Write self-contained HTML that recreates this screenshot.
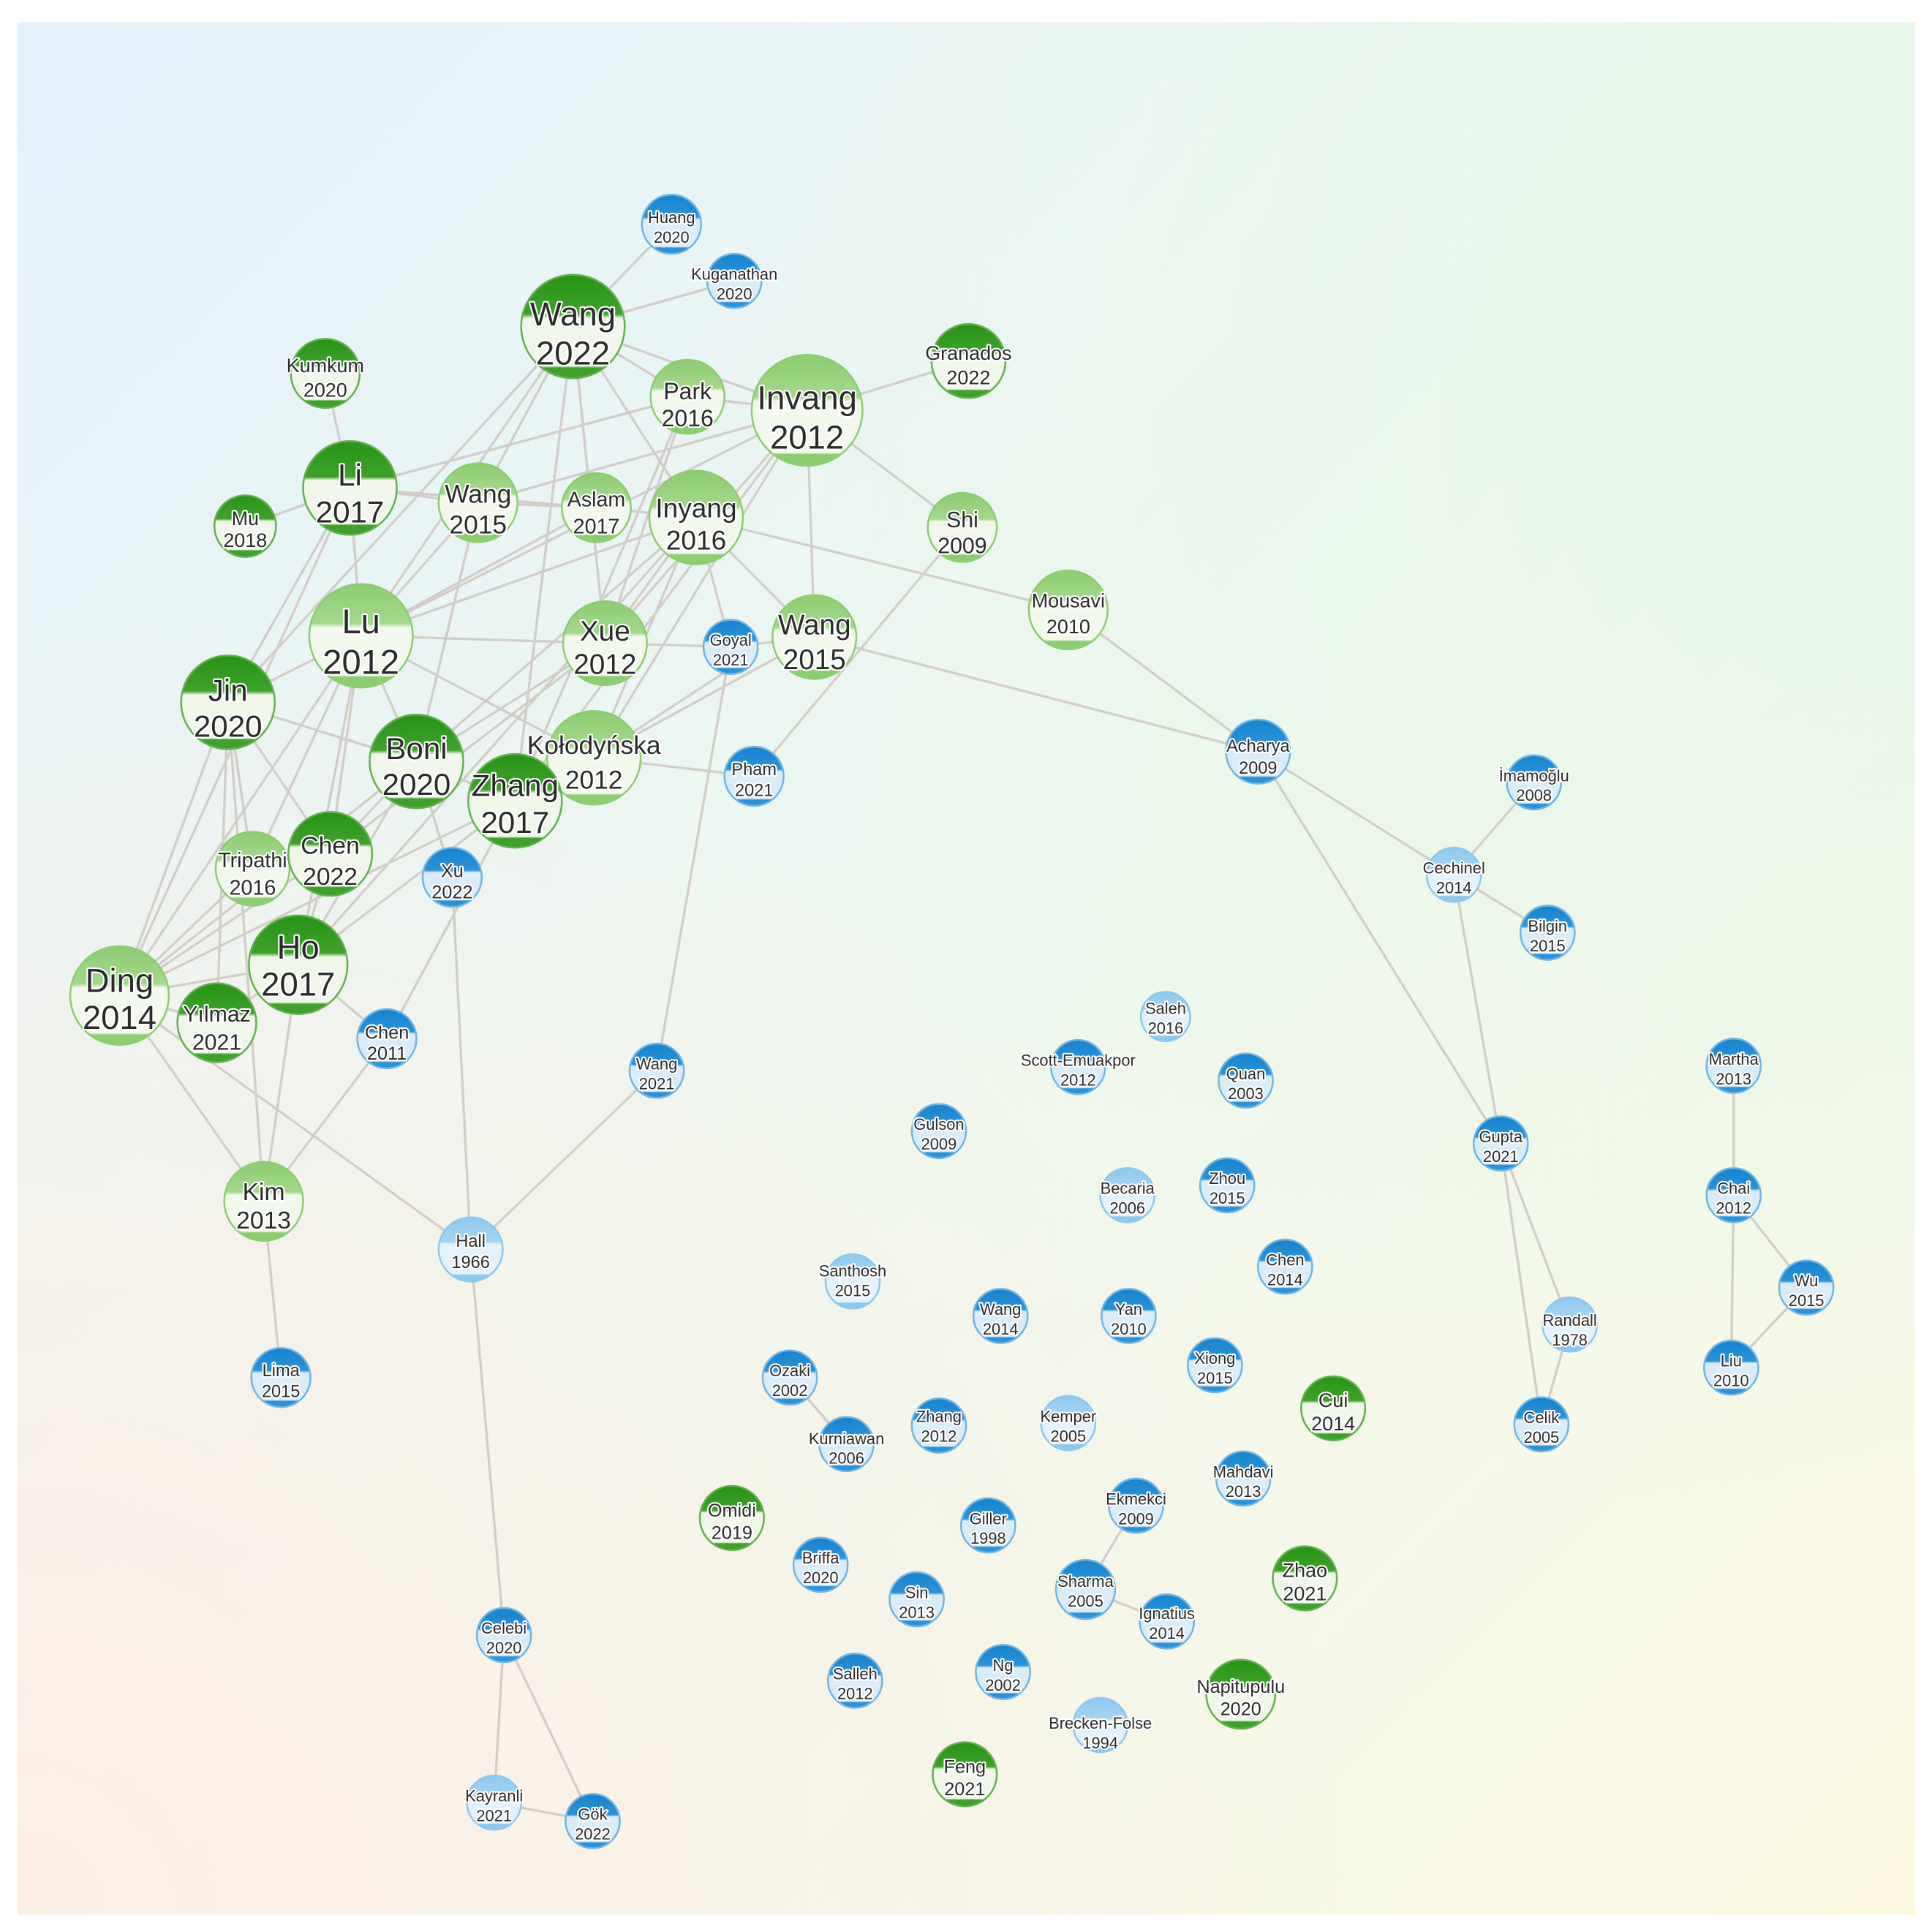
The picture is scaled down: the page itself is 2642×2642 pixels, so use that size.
<!DOCTYPE html>
<html><head><meta charset="utf-8"><style>
html,body{margin:0;padding:0;background:#fff}
svg{display:block}
text{font-family:"Liberation Sans",sans-serif;fill:#2a2a2a;text-anchor:middle;paint-order:stroke;stroke:#fff;stroke-width:2.5px;stroke-linejoin:round}
</style></head><body>
<svg width="2642" height="2642" viewBox="0 0 1568 1568" xmlns="http://www.w3.org/2000/svg">
<defs>
<linearGradient id="bg1" x1="0" y1="0" x2="1" y2="1">
<stop offset="0" stop-color="#e4f1fa"/><stop offset="0.5" stop-color="#eef7ee"/><stop offset="1" stop-color="#fcf8e2"/>
</linearGradient>
<radialGradient id="bg2" cx="0" cy="1" r="0.7"><stop offset="0" stop-color="#fdeee4" stop-opacity="1"/><stop offset="1" stop-color="#fdeee4" stop-opacity="0"/></radialGradient>
<radialGradient id="bg3" cx="1" cy="0.2" r="0.6"><stop offset="0" stop-color="#e6f7e8" stop-opacity="1"/><stop offset="1" stop-color="#e6f7e8" stop-opacity="0"/></radialGradient>
<linearGradient id="gD" x1="0" y1="0" x2="0" y2="1"><stop offset="0" stop-color="#279317"/><stop offset="0.38" stop-color="#3ea12a"/><stop offset="0.42" stop-color="#f0f7ea"/><stop offset="0.88" stop-color="#f0f7ea"/><stop offset="0.9" stop-color="#3ea12a"/><stop offset="1" stop-color="#3ea12a"/></linearGradient>
<linearGradient id="gL" x1="0" y1="0" x2="0" y2="1"><stop offset="0" stop-color="#8ccd70"/><stop offset="0.38" stop-color="#a3d88c"/><stop offset="0.42" stop-color="#f2f8ec"/><stop offset="0.88" stop-color="#f2f8ec"/><stop offset="0.9" stop-color="#8ccd70"/><stop offset="1" stop-color="#8ccd70"/></linearGradient>
<linearGradient id="bD" x1="0" y1="0" x2="0" y2="1"><stop offset="0" stop-color="#1583cf"/><stop offset="0.38" stop-color="#2a92d8"/><stop offset="0.42" stop-color="#d9ecf8"/><stop offset="0.88" stop-color="#d9ecf8"/><stop offset="0.9" stop-color="#2a92d8"/><stop offset="1" stop-color="#2a92d8"/></linearGradient>
<linearGradient id="bL" x1="0" y1="0" x2="0" y2="1"><stop offset="0" stop-color="#8cc8ee"/><stop offset="0.38" stop-color="#a6d4f2"/><stop offset="0.42" stop-color="#e4f2fb"/><stop offset="0.88" stop-color="#e4f2fb"/><stop offset="0.9" stop-color="#8cc8ee"/><stop offset="1" stop-color="#8cc8ee"/></linearGradient>
</defs>
<rect x="14" y="18" width="1540" height="1536" fill="url(#bg1)"/>
<rect x="14" y="18" width="1540" height="1536" fill="url(#bg2)"/>
<rect x="14" y="18" width="1540" height="1536" fill="url(#bg3)"/>
<g stroke="#d2cdc8" stroke-width="2" fill="none">
<line x1="545" y1="182" x2="465" y2="265"/><line x1="596" y1="228" x2="465" y2="265"/>
<line x1="465" y1="265" x2="558" y2="322"/><line x1="465" y1="265" x2="655" y2="333"/>
<line x1="465" y1="265" x2="388" y2="408"/><line x1="465" y1="265" x2="293" y2="516"/>
<line x1="465" y1="265" x2="418" y2="650"/><line x1="465" y1="265" x2="565" y2="420"/>
<line x1="465" y1="265" x2="185" y2="570"/><line x1="465" y1="265" x2="491" y2="522"/>
<line x1="264" y1="303" x2="284" y2="396"/><line x1="284" y1="396" x2="199" y2="427"/>
<line x1="284" y1="396" x2="388" y2="408"/><line x1="284" y1="396" x2="484" y2="412"/>
<line x1="284" y1="396" x2="558" y2="322"/><line x1="284" y1="396" x2="293" y2="516"/>
<line x1="284" y1="396" x2="185" y2="570"/><line x1="284" y1="396" x2="97" y2="808"/>
<line x1="388" y1="408" x2="655" y2="333"/><line x1="388" y1="408" x2="484" y2="412"/>
<line x1="388" y1="408" x2="293" y2="516"/><line x1="388" y1="408" x2="338" y2="618"/>
<line x1="484" y1="412" x2="565" y2="420"/><line x1="484" y1="412" x2="293" y2="516"/>
<line x1="565" y1="420" x2="293" y2="516"/><line x1="565" y1="420" x2="661" y2="517"/>
<line x1="565" y1="420" x2="867" y2="495"/><line x1="565" y1="420" x2="491" y2="522"/>
<line x1="565" y1="420" x2="482" y2="615"/><line x1="565" y1="420" x2="338" y2="618"/>
<line x1="565" y1="420" x2="593" y2="525"/><line x1="565" y1="420" x2="242" y2="783"/>
<line x1="655" y1="333" x2="786" y2="293"/><line x1="655" y1="333" x2="781" y2="428"/>
<line x1="655" y1="333" x2="661" y2="517"/><line x1="655" y1="333" x2="491" y2="522"/>
<line x1="655" y1="333" x2="482" y2="615"/><line x1="655" y1="333" x2="293" y2="516"/>
<line x1="655" y1="333" x2="558" y2="322"/><line x1="655" y1="333" x2="418" y2="650"/>
<line x1="558" y1="322" x2="491" y2="522"/><line x1="558" y1="322" x2="418" y2="650"/>
<line x1="781" y1="428" x2="612" y2="630"/><line x1="661" y1="517" x2="1021" y2="610"/>
<line x1="661" y1="517" x2="482" y2="615"/><line x1="661" y1="517" x2="418" y2="650"/>
<line x1="491" y1="522" x2="293" y2="516"/><line x1="491" y1="522" x2="593" y2="525"/>
<line x1="491" y1="522" x2="338" y2="618"/><line x1="491" y1="522" x2="268" y2="693"/>
<line x1="593" y1="525" x2="661" y2="517"/><line x1="593" y1="525" x2="533" y2="869"/>
<line x1="867" y1="495" x2="1021" y2="610"/>
<line x1="293" y1="516" x2="185" y2="570"/><line x1="293" y1="516" x2="338" y2="618"/>
<line x1="293" y1="516" x2="482" y2="615"/><line x1="293" y1="516" x2="268" y2="693"/>
<line x1="293" y1="516" x2="205" y2="705"/><line x1="293" y1="516" x2="97" y2="808"/>
<line x1="293" y1="516" x2="242" y2="783"/>
<line x1="185" y1="570" x2="338" y2="618"/><line x1="185" y1="570" x2="97" y2="808"/>
<line x1="185" y1="570" x2="205" y2="705"/><line x1="185" y1="570" x2="214" y2="975"/>
<line x1="185" y1="570" x2="176" y2="830"/><line x1="185" y1="570" x2="268" y2="693"/>
<line x1="338" y1="618" x2="418" y2="650"/><line x1="338" y1="618" x2="242" y2="783"/>
<line x1="338" y1="618" x2="268" y2="693"/><line x1="338" y1="618" x2="367" y2="712"/>
<line x1="338" y1="618" x2="97" y2="808"/>
<line x1="482" y1="615" x2="612" y2="630"/><line x1="482" y1="615" x2="418" y2="650"/>
<line x1="482" y1="615" x2="612" y2="530"/>
<line x1="418" y1="650" x2="242" y2="783"/><line x1="418" y1="650" x2="314" y2="843"/>
<line x1="418" y1="650" x2="97" y2="808"/>
<line x1="268" y1="693" x2="97" y2="808"/><line x1="268" y1="693" x2="242" y2="783"/>
<line x1="205" y1="705" x2="97" y2="808"/>
<line x1="242" y1="783" x2="97" y2="808"/><line x1="242" y1="783" x2="176" y2="830"/>
<line x1="242" y1="783" x2="314" y2="843"/><line x1="242" y1="783" x2="214" y2="975"/>
<line x1="97" y1="808" x2="176" y2="830"/><line x1="97" y1="808" x2="214" y2="975"/>
<line x1="97" y1="808" x2="382" y2="1014"/>
<line x1="314" y1="843" x2="214" y2="975"/><line x1="367" y1="712" x2="382" y2="1014"/>
<line x1="382" y1="1014" x2="533" y2="869"/><line x1="382" y1="1014" x2="409" y2="1327"/>
<line x1="214" y1="975" x2="228" y2="1118"/>
<line x1="409" y1="1327" x2="401" y2="1463"/><line x1="409" y1="1327" x2="481" y2="1478"/>
<line x1="401" y1="1463" x2="481" y2="1478"/>
<line x1="1021" y1="610" x2="1180" y2="710"/><line x1="1021" y1="610" x2="1218" y2="928"/>
<line x1="1180" y1="710" x2="1245" y2="635"/><line x1="1180" y1="710" x2="1256" y2="757"/>
<line x1="1180" y1="710" x2="1218" y2="928"/><line x1="1218" y1="928" x2="1274" y2="1075"/>
<line x1="1218" y1="928" x2="1251" y2="1156"/><line x1="1274" y1="1075" x2="1251" y2="1156"/>
<line x1="1407" y1="865" x2="1407" y2="970"/><line x1="1407" y1="970" x2="1466" y2="1045"/>
<line x1="1407" y1="970" x2="1405" y2="1110"/><line x1="1405" y1="1110" x2="1466" y2="1045"/>
<line x1="641" y1="1118" x2="687" y2="1172"/><line x1="922" y1="1222" x2="881" y2="1290"/>
<line x1="881" y1="1290" x2="947" y2="1316"/>
</g>
<g stroke-width="1.5">
<!-- nodes: circle then text -->
<circle cx="545" cy="182" r="24" fill="url(#bD)" stroke="#6fb5e3"/><text x="545" y="181" font-size="13">Huang</text><text x="545" y="197" font-size="13">2020</text>
<circle cx="596" cy="228" r="22" fill="url(#bD)" stroke="#6fb5e3"/><text x="596" y="227" font-size="13">Kuganathan</text><text x="596" y="243" font-size="13">2020</text>
<circle cx="465" cy="265" r="42" fill="url(#gD)" stroke="#62b04e"/><text x="465" y="264" font-size="27">Wang</text><text x="465" y="296" font-size="27">2022</text>
<circle cx="264" cy="303" r="28" fill="url(#gD)" stroke="#62b04e"/><text x="264" y="302" font-size="16">Kumkum</text><text x="264" y="322" font-size="16">2020</text>
<circle cx="786" cy="293" r="30" fill="url(#gD)" stroke="#62b04e"/><text x="786" y="292" font-size="16">Granados</text><text x="786" y="312" font-size="16">2022</text>
<circle cx="558" cy="322" r="30" fill="url(#gL)" stroke="#8ccd70"/><text x="558" y="324" font-size="19">Park</text><text x="558" y="346" font-size="19">2016</text>
<circle cx="655" cy="333" r="45" fill="url(#gL)" stroke="#8ccd70"/><text x="655" y="332" font-size="27">Invang</text><text x="655" y="364" font-size="27">2012</text>
<circle cx="284" cy="396" r="38" fill="url(#gD)" stroke="#62b04e"/><text x="284" y="394" font-size="25">Li</text><text x="284" y="424" font-size="25">2017</text>
<circle cx="199" cy="427" r="25" fill="url(#gD)" stroke="#62b04e"/><text x="199" y="426" font-size="16">Mu</text><text x="199" y="444" font-size="16">2018</text>
<circle cx="388" cy="408" r="32" fill="url(#gL)" stroke="#8ccd70"/><text x="388" y="408" font-size="21">Wang</text><text x="388" y="433" font-size="21">2015</text>
<circle cx="484" cy="412" r="28" fill="url(#gL)" stroke="#8ccd70"/><text x="484" y="411" font-size="17">Aslam</text><text x="484" y="433" font-size="17">2017</text>
<circle cx="565" cy="420" r="38" fill="url(#gL)" stroke="#8ccd70"/><text x="565" y="420" font-size="22">Inyang</text><text x="565" y="446" font-size="22">2016</text>
<circle cx="781" cy="428" r="28" fill="url(#gL)" stroke="#8ccd70"/><text x="781" y="428" font-size="18">Shi</text><text x="781" y="449" font-size="18">2009</text>
<circle cx="293" cy="516" r="42" fill="url(#gL)" stroke="#8ccd70"/><text x="293" y="514" font-size="28">Lu</text><text x="293" y="547" font-size="28">2012</text>
<circle cx="491" cy="522" r="34" fill="url(#gL)" stroke="#8ccd70"/><text x="491" y="520" font-size="23">Xue</text><text x="491" y="547" font-size="23">2012</text>
<circle cx="593" cy="525" r="22" fill="url(#bD)" stroke="#6fb5e3"/><text x="593" y="524" font-size="13">Goyal</text><text x="593" y="540" font-size="13">2021</text>
<circle cx="661" cy="517" r="34" fill="url(#gL)" stroke="#8ccd70"/><text x="661" y="515" font-size="23">Wang</text><text x="661" y="543" font-size="23">2015</text>
<circle cx="867" cy="495" r="32" fill="url(#gL)" stroke="#8ccd70"/><text x="867" y="493" font-size="16">Mousavi</text><text x="867" y="514" font-size="16">2010</text>
<circle cx="185" cy="570" r="38" fill="url(#gD)" stroke="#62b04e"/><text x="185" y="569" font-size="25">Jin</text><text x="185" y="598" font-size="25">2020</text>
<circle cx="338" cy="618" r="38" fill="url(#gD)" stroke="#62b04e"/><text x="338" y="616" font-size="25">Boni</text><text x="338" y="645" font-size="25">2020</text>
<circle cx="482" cy="615" r="38" fill="url(#gL)" stroke="#8ccd70"/>
<circle cx="418" cy="650" r="38" fill="url(#gD)" stroke="#62b04e"/><text x="418" y="646" font-size="25">Zhang</text><text x="418" y="676" font-size="25">2017</text>
<text x="482" y="612" font-size="21">Kołodyńska</text><text x="482" y="640" font-size="21">2012</text>
<circle cx="612" cy="630" r="24" fill="url(#bD)" stroke="#6fb5e3"/><text x="612" y="629" font-size="14">Pham</text><text x="612" y="646" font-size="14">2021</text>
<circle cx="1021" cy="610" r="26" fill="url(#bD)" stroke="#6fb5e3"/><text x="1021" y="610" font-size="14">Acharya</text><text x="1021" y="628" font-size="14">2009</text>
<circle cx="1245" cy="635" r="22" fill="url(#bD)" stroke="#6fb5e3"/><text x="1245" y="634" font-size="13">İmamoğlu</text><text x="1245" y="650" font-size="13">2008</text>
<circle cx="1180" cy="710" r="22" fill="url(#bL)" stroke="#8cc8ee"/><text x="1180" y="709" font-size="13">Cechinel</text><text x="1180" y="725" font-size="13">2014</text>
<circle cx="1256" cy="757" r="22" fill="url(#bD)" stroke="#6fb5e3"/><text x="1256" y="756" font-size="13">Bilgin</text><text x="1256" y="772" font-size="13">2015</text>
<circle cx="205" cy="705" r="30" fill="url(#gL)" stroke="#8ccd70"/><text x="205" y="704" font-size="17">Tripathi</text><text x="205" y="726" font-size="17">2016</text>
<circle cx="268" cy="693" r="34" fill="url(#gD)" stroke="#62b04e"/><text x="268" y="693" font-size="20">Chen</text><text x="268" y="718" font-size="20">2022</text>
<circle cx="367" cy="712" r="24" fill="url(#bD)" stroke="#6fb5e3"/><text x="367" y="712" font-size="15">Xu</text><text x="367" y="729" font-size="15">2022</text>
<circle cx="242" cy="783" r="40" fill="url(#gD)" stroke="#62b04e"/><text x="242" y="778" font-size="27">Ho</text><text x="242" y="808" font-size="27">2017</text>
<circle cx="97" cy="808" r="40" fill="url(#gL)" stroke="#8ccd70"/><text x="97" y="805" font-size="27">Ding</text><text x="97" y="835" font-size="27">2014</text>
<circle cx="176" cy="830" r="32" fill="url(#gD)" stroke="#62b04e"/><text x="176" y="829" font-size="18">Yılmaz</text><text x="176" y="852" font-size="18">2021</text>
<circle cx="314" cy="843" r="24" fill="url(#bD)" stroke="#6fb5e3"/><text x="314" y="843" font-size="15">Chen</text><text x="314" y="860" font-size="15">2011</text>
<circle cx="533" cy="869" r="22" fill="url(#bD)" stroke="#6fb5e3"/><text x="533" y="868" font-size="13">Wang</text><text x="533" y="884" font-size="13">2021</text>
<circle cx="946" cy="825" r="20" fill="url(#bL)" stroke="#8cc8ee"/><text x="946" y="823" font-size="13">Saleh</text><text x="946" y="839" font-size="13">2016</text>
<circle cx="875" cy="866" r="22" fill="url(#bD)" stroke="#6fb5e3"/><text x="875" y="865" font-size="13">Scott-Emuakpor</text><text x="875" y="881" font-size="13">2012</text>
<circle cx="1011" cy="877" r="22" fill="url(#bD)" stroke="#6fb5e3"/><text x="1011" y="876" font-size="13">Quan</text><text x="1011" y="892" font-size="13">2003</text>
<circle cx="1407" cy="865" r="22" fill="url(#bD)" stroke="#6fb5e3"/><text x="1407" y="864" font-size="13">Martha</text><text x="1407" y="880" font-size="13">2013</text>
<circle cx="762" cy="918" r="22" fill="url(#bD)" stroke="#6fb5e3"/><text x="762" y="917" font-size="13">Gulson</text><text x="762" y="933" font-size="13">2009</text>
<circle cx="1218" cy="928" r="22" fill="url(#bD)" stroke="#6fb5e3"/><text x="1218" y="927" font-size="13">Gupta</text><text x="1218" y="943" font-size="13">2021</text>
<circle cx="214" cy="975" r="32" fill="url(#gL)" stroke="#8ccd70"/><text x="214" y="974" font-size="20">Kim</text><text x="214" y="997" font-size="20">2013</text>
<circle cx="915" cy="970" r="22" fill="url(#bL)" stroke="#8cc8ee"/><text x="915" y="969" font-size="13">Becaria</text><text x="915" y="985" font-size="13">2006</text>
<circle cx="996" cy="962" r="22" fill="url(#bD)" stroke="#6fb5e3"/><text x="996" y="961" font-size="13">Zhou</text><text x="996" y="977" font-size="13">2015</text>
<circle cx="1407" cy="970" r="22" fill="url(#bD)" stroke="#6fb5e3"/><text x="1407" y="969" font-size="13">Chai</text><text x="1407" y="985" font-size="13">2012</text>
<circle cx="382" cy="1014" r="26" fill="url(#bL)" stroke="#8cc8ee"/><text x="382" y="1012" font-size="14">Hall</text><text x="382" y="1029" font-size="14">1966</text>
<circle cx="1043" cy="1028" r="22" fill="url(#bD)" stroke="#6fb5e3"/><text x="1043" y="1027" font-size="13">Chen</text><text x="1043" y="1043" font-size="13">2014</text>
<circle cx="692" cy="1040" r="22" fill="url(#bL)" stroke="#8cc8ee"/><text x="692" y="1036" font-size="13">Santhosh</text><text x="692" y="1052" font-size="13">2015</text>
<circle cx="1466" cy="1045" r="22" fill="url(#bD)" stroke="#6fb5e3"/><text x="1466" y="1044" font-size="13">Wu</text><text x="1466" y="1060" font-size="13">2015</text>
<circle cx="812" cy="1068" r="22" fill="url(#bD)" stroke="#6fb5e3"/><text x="812" y="1067" font-size="13">Wang</text><text x="812" y="1083" font-size="13">2014</text>
<circle cx="916" cy="1068" r="22" fill="url(#bD)" stroke="#6fb5e3"/><text x="916" y="1067" font-size="13">Yan</text><text x="916" y="1083" font-size="13">2010</text>
<circle cx="1274" cy="1075" r="22" fill="url(#bL)" stroke="#8cc8ee"/><text x="1274" y="1076" font-size="13">Randall</text><text x="1274" y="1092" font-size="13">1978</text>
<circle cx="986" cy="1108" r="22" fill="url(#bD)" stroke="#6fb5e3"/><text x="986" y="1107" font-size="13">Xiong</text><text x="986" y="1123" font-size="13">2015</text>
<circle cx="228" cy="1118" r="24" fill="url(#bD)" stroke="#6fb5e3"/><text x="228" y="1117" font-size="14">Lima</text><text x="228" y="1134" font-size="14">2015</text>
<circle cx="1405" cy="1110" r="22" fill="url(#bD)" stroke="#6fb5e3"/><text x="1405" y="1109" font-size="13">Liu</text><text x="1405" y="1125" font-size="13">2010</text>
<circle cx="641" cy="1118" r="22" fill="url(#bD)" stroke="#6fb5e3"/><text x="641" y="1117" font-size="13">Ozaki</text><text x="641" y="1133" font-size="13">2002</text>
<circle cx="1082" cy="1143" r="26" fill="url(#gD)" stroke="#62b04e"/><text x="1082" y="1142" font-size="16">Cui</text><text x="1082" y="1161" font-size="16">2014</text>
<circle cx="762" cy="1157" r="22" fill="url(#bD)" stroke="#6fb5e3"/><text x="762" y="1154" font-size="13">Zhang</text><text x="762" y="1170" font-size="13">2012</text>
<circle cx="867" cy="1155" r="22" fill="url(#bL)" stroke="#8cc8ee"/><text x="867" y="1154" font-size="13">Kemper</text><text x="867" y="1170" font-size="13">2005</text>
<circle cx="687" cy="1172" r="22" fill="url(#bD)" stroke="#6fb5e3"/><text x="687" y="1172" font-size="13">Kurniawan</text><text x="687" y="1188" font-size="13">2006</text>
<circle cx="1251" cy="1156" r="22" fill="url(#bD)" stroke="#6fb5e3"/><text x="1251" y="1155" font-size="13">Celik</text><text x="1251" y="1171" font-size="13">2005</text>
<circle cx="1009" cy="1200" r="22" fill="url(#bD)" stroke="#6fb5e3"/><text x="1009" y="1199" font-size="13">Mahdavi</text><text x="1009" y="1215" font-size="13">2013</text>
<circle cx="922" cy="1222" r="22" fill="url(#bD)" stroke="#6fb5e3"/><text x="922" y="1221" font-size="13">Ekmekci</text><text x="922" y="1237" font-size="13">2009</text>
<circle cx="594" cy="1232" r="26" fill="url(#gD)" stroke="#62b04e"/><text x="594" y="1231" font-size="15">Omidi</text><text x="594" y="1249" font-size="15">2019</text>
<circle cx="802" cy="1238" r="22" fill="url(#bD)" stroke="#6fb5e3"/><text x="802" y="1237" font-size="13">Giller</text><text x="802" y="1253" font-size="13">1998</text>
<circle cx="1059" cy="1281" r="26" fill="url(#gD)" stroke="#62b04e"/><text x="1059" y="1280" font-size="16">Zhao</text><text x="1059" y="1299" font-size="16">2021</text>
<circle cx="666" cy="1270" r="22" fill="url(#bD)" stroke="#6fb5e3"/><text x="666" y="1269" font-size="13">Briffa</text><text x="666" y="1285" font-size="13">2020</text>
<circle cx="881" cy="1290" r="24" fill="url(#bD)" stroke="#6fb5e3"/><text x="881" y="1288" font-size="13">Sharma</text><text x="881" y="1304" font-size="13">2005</text>
<circle cx="744" cy="1298" r="22" fill="url(#bD)" stroke="#6fb5e3"/><text x="744" y="1297" font-size="13">Sin</text><text x="744" y="1313" font-size="13">2013</text>
<circle cx="947" cy="1316" r="22" fill="url(#bD)" stroke="#6fb5e3"/><text x="947" y="1314" font-size="13">Ignatius</text><text x="947" y="1330" font-size="13">2014</text>
<circle cx="409" cy="1327" r="22" fill="url(#bD)" stroke="#6fb5e3"/><text x="409" y="1326" font-size="13">Celebi</text><text x="409" y="1342" font-size="13">2020</text>
<circle cx="814" cy="1357" r="22" fill="url(#bD)" stroke="#6fb5e3"/><text x="814" y="1356" font-size="13">Ng</text><text x="814" y="1372" font-size="13">2002</text>
<circle cx="694" cy="1364" r="22" fill="url(#bD)" stroke="#6fb5e3"/><text x="694" y="1363" font-size="13">Salleh</text><text x="694" y="1379" font-size="13">2012</text>
<circle cx="1007" cy="1375" r="28" fill="url(#gD)" stroke="#62b04e"/><text x="1007" y="1374" font-size="15">Napitupulu</text><text x="1007" y="1392" font-size="15">2020</text>
<circle cx="893" cy="1400" r="22" fill="url(#bL)" stroke="#8cc8ee"/><text x="893" y="1403" font-size="13">Brecken-Folse</text><text x="893" y="1419" font-size="13">1994</text>
<circle cx="783" cy="1440" r="26" fill="url(#gD)" stroke="#62b04e"/><text x="783" y="1439" font-size="15">Feng</text><text x="783" y="1457" font-size="15">2021</text>
<circle cx="401" cy="1463" r="22" fill="url(#bL)" stroke="#8cc8ee"/><text x="401" y="1462" font-size="13">Kayranli</text><text x="401" y="1478" font-size="13">2021</text>
<circle cx="481" cy="1478" r="22" fill="url(#bD)" stroke="#6fb5e3"/><text x="481" y="1477" font-size="13">Gök</text><text x="481" y="1493" font-size="13">2022</text>
</g>
</svg>
</body></html>
